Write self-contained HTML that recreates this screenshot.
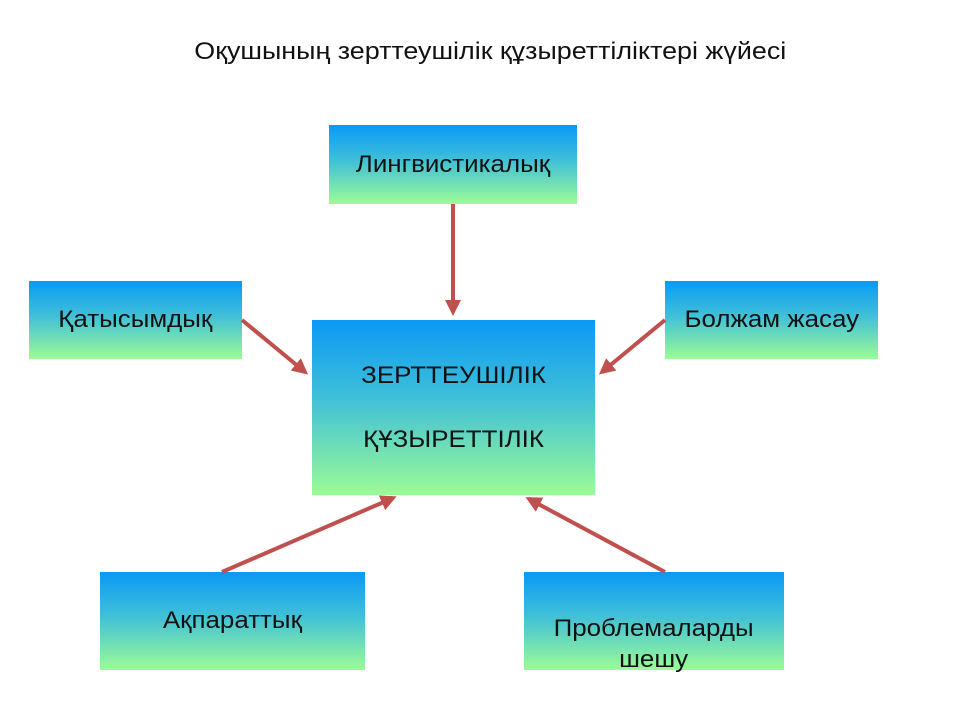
<!DOCTYPE html>
<html><head><meta charset="utf-8"><style>
body{margin:0;width:960px;height:720px;background:#fff;position:relative;overflow:hidden;font-family:"Liberation Sans",sans-serif;}
.b{position:absolute;background:linear-gradient(#0a99f5,#40c0d8 45%,#9cfb96);display:flex;align-items:center;justify-content:center;text-align:center;font-size:24px;color:#111;}
.b span{display:inline-block;transform:scaleX(1.08);}
.t{position:absolute;top:38px;left:0;width:980px;text-align:center;font-size:24px;color:#111;}
.t span{display:inline-block;transform:scaleX(1.12);}
svg{position:absolute;left:0;top:0;}
</style></head><body>
<div class="t"><span>Оқушының зерттеушілік құзыреттіліктері жүйесі</span></div>
<div class="b" style="left:329px;top:125px;width:248px;height:79px;"><span>Лингвистикалық</span></div>
<div class="b" style="left:29px;top:281px;width:213px;height:78px;"><span>Қатысымдық</span></div>
<div class="b" style="left:665px;top:281px;width:213px;height:78px;"><span>Болжам жасау</span></div>
<div class="b" style="left:312px;top:320px;width:283px;height:175px;line-height:64px;"><span>ЗЕРТТЕУШІЛІК<br>ҚҰЗЫРЕТТІЛІК</span></div>
<div class="b" style="left:100px;top:572px;width:265px;height:98px;"><span>Ақпараттық</span></div>
<div class="b" style="left:524px;top:572px;width:260px;height:98px;line-height:31px;padding-top:46px;box-sizing:border-box;overflow:visible;"><span>Проблемаларды<br>шешу</span></div>
<svg width="960" height="720">
<defs><marker id="a" markerWidth="4" markerHeight="4" refX="3" refY="2" orient="auto"><path d="M0,0L4,2L0,4z" fill="#c0504d"/></marker></defs>
<g stroke="#c0504d" stroke-width="4" marker-end="url(#a)">
<line x1="453" y1="204" x2="453" y2="312"/>
<line x1="242" y1="320" x2="305" y2="372"/>
<line x1="665" y1="320" x2="602" y2="372"/>
<line x1="222" y1="572" x2="393" y2="498"/>
<line x1="665" y1="572" x2="529" y2="499"/>
</g></svg>
</body></html>
